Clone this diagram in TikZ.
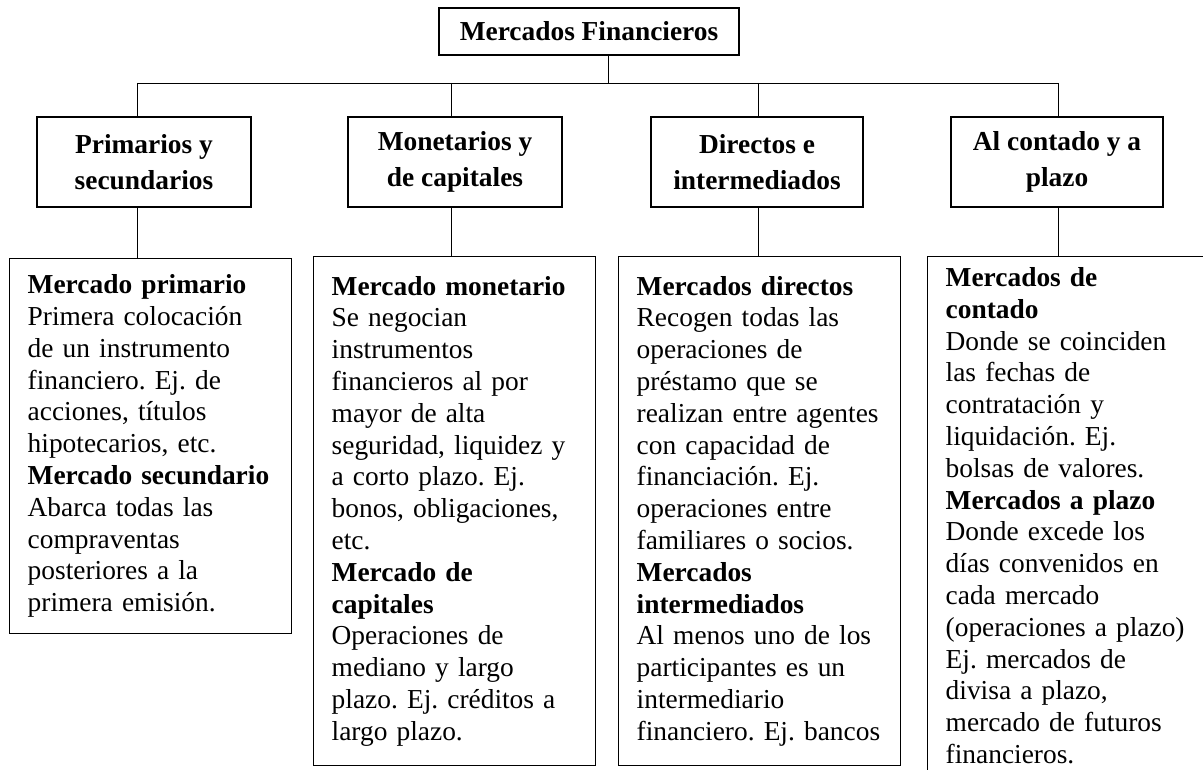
\documentclass[tikz,border=0pt]{standalone}
\usepackage{fontspec}
\setmainfont{Liberation Serif}
\usepackage{tikz}
\frenchspacing
\hyphenpenalty=10000
\exhyphenpenalty=10000

\begin{document}
\begin{tikzpicture}[x=1pt,y=-1pt,
    titulo/.style={draw,line width=1.4pt,font=\fontsize{27.4}{36}\selectfont\bfseries,align=center,inner sep=0pt},
    detalle/.style={draw,line width=1.4pt,font=\fontsize{27.4}{31.8}\selectfont,align=left,text width=246pt,inner xsep=18pt,inner ysep=0pt,anchor=north west},
    linea/.style={line width=0.9pt}]
      \useasboundingbox (0,0) rectangle (1203,770);
      \clip (0,0) rectangle (1203,770);

      \node[titulo,minimum width=300pt,minimum height=47pt] (mf) at (589,31.5) {Mercados Financieros} ;

      \node[titulo,minimum width=214pt,minimum height=90pt] (ps) at ( 144,162) {Primarios y\\secundarios} ;
      \node[titulo,minimum width=214pt,minimum height=90pt] (mc) at ( 455,162) {Monetarios y\\de capitales} ;
      \node[titulo,minimum width=212pt,minimum height=90pt] (di) at ( 757,162) {Directos e\\intermediados} ;
      \node[titulo,minimum width=212pt,minimum height=90pt] (cp) at (1057,162) {Al contado y a\\plazo} ;

      \node[detalle,minimum height=375pt] (dps) at (  9,258) {\textbf{Mercado primario}\\Primera colocación\\de un instrumento\\financiero. Ej. de\\acciones, títulos\\hipotecarios, etc.\\\textbf{Mercado secundario}\\Abarca todas las\\compraventas\\posteriores a la\\primera emisión.} ;
      \node[detalle,minimum height=509pt] (dmc) at (313,256) {\textbf{Mercado monetario}\\Se negocian\\instrumentos\\financieros al por\\mayor de alta\\seguridad, liquidez y\\a corto plazo. Ej.\\bonos, obligaciones,\\etc.\\\textbf{Mercado de}\\\textbf{capitales}\\Operaciones de\\mediano y largo\\plazo. Ej. créditos a\\largo plazo.} ;
      \node[detalle,minimum height=509pt] (ddi) at (618,256) {\textbf{Mercados directos}\\Recogen todas las\\operaciones de\\préstamo que se\\realizan entre agentes\\con capacidad de\\financiación. Ej.\\operaciones entre\\familiares o socios.\\\textbf{Mercados}\\\textbf{intermediados}\\Al menos uno de los\\participantes es un\\intermediario\\financiero. Ej. bancos} ;
      \node[detalle,minimum height=518pt] (dcp) at (927,256) {\textbf{Mercados de}\\\textbf{contado}\\Donde se coinciden\\las fechas de\\contratación y\\liquidación. Ej.\\bolsas de valores.\\\textbf{Mercados a plazo}\\Donde excede los\\días convenidos en\\cada mercado\\(operaciones a plazo)\\Ej. mercados de\\divisa a plazo,\\mercado de futuros\\financieros.} ;

      \coordinate (b0) at ( 608,83) ;
      \coordinate (b1) at ( 137,83) ;
      \coordinate (b2) at ( 451,83) ;
      \coordinate (b3) at ( 758,83) ;
      \coordinate (b4) at (1058,83) ;

      \draw[linea] (b0 |- mf.south) -- (b0) ;
      \draw[linea] (b1) -- (b4) ;
      \draw[linea] (b1) -- (b1 |- ps.north) ;
      \draw[linea] (b2) -- (b2 |- mc.north) ;
      \draw[linea] (b3) -- (b3 |- di.north) ;
      \draw[linea] (b4) -- (b4 |- cp.north) ;
      \draw[linea] (b1 |- ps.south) -- (b1 |- dps.north) ;
      \draw[linea] (b2 |- mc.south) -- (b2 |- dmc.north) ;
      \draw[linea] (b3 |- di.south) -- (b3 |- ddi.north) ;
      \draw[linea] (b4 |- cp.south) -- (b4 |- dcp.north) ;
    \end{tikzpicture}
\end{document}
